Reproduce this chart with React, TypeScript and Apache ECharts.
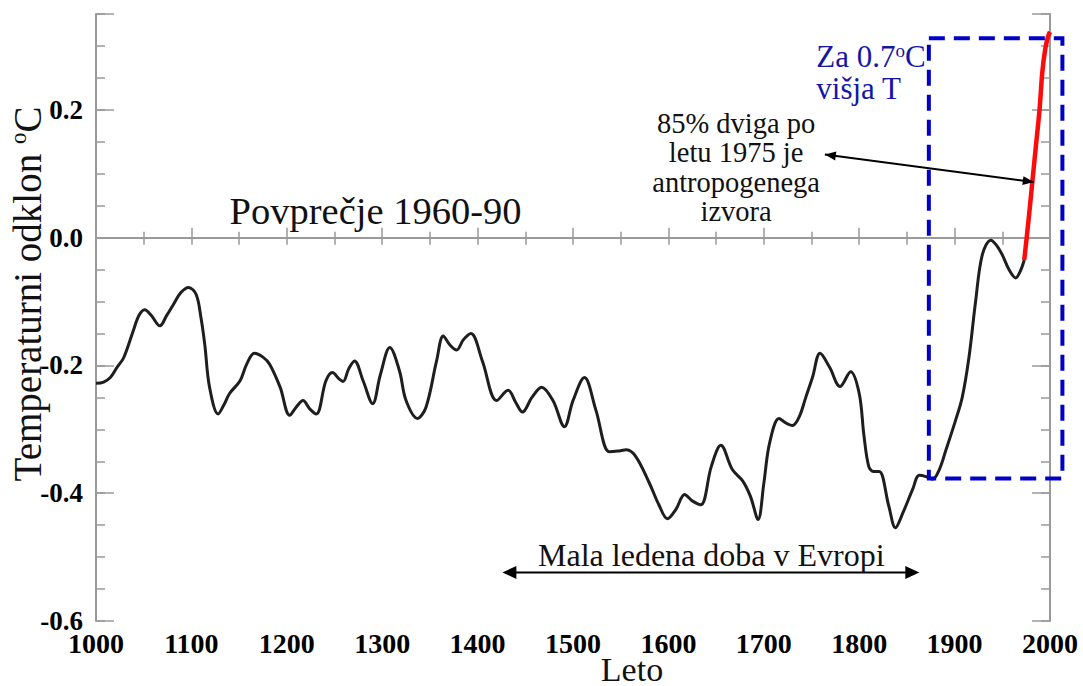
import React, { useEffect, useRef } from "react";
import * as echarts from "echarts";

// Reconstructed temperature anomaly (°C relative to 1960-90)
const years: number[] = [
  1000, 1008, 1015, 1022, 1029, 1039, 1045, 1051, 1058, 1067, 1074, 1081, 1089, 1097, 1105, 1110, 1114, 1119, 1128, 1134,
  1140, 1151, 1158, 1166, 1175, 1182, 1193, 1203, 1210, 1217, 1224, 1231, 1241, 1248, 1254, 1259, 1265, 1271, 1280, 1290,
  1298, 1308, 1318, 1325, 1337, 1346, 1357, 1364, 1371, 1378, 1385, 1393, 1405, 1420, 1432, 1440, 1447, 1457, 1467, 1479,
  1491, 1500, 1512, 1524, 1538, 1547, 1556, 1566, 1580, 1590, 1599, 1608, 1617, 1625, 1634, 1645, 1655, 1667, 1678, 1686,
  1694, 1700, 1706, 1716, 1723, 1730, 1737, 1744, 1751, 1759, 1769, 1780, 1791, 1800, 1805, 1810, 1815, 1821, 1831, 1838,
  1846, 1856, 1863, 1870, 1877, 1884, 1891, 1901, 1908, 1915, 1922, 1929, 1938, 1944, 1950, 1957, 1964, 1969, 1973,
];
const anomaly: number[] = [
  -0.228, -0.226, -0.219, -0.203, -0.188, -0.146, -0.122, -0.113, -0.122, -0.138, -0.122, -0.105, -0.086, -0.078, -0.089, -0.125, -0.167, -0.234, -0.276, -0.262,
  -0.244, -0.224, -0.198, -0.181, -0.187, -0.198, -0.234, -0.278, -0.265, -0.255, -0.268, -0.276, -0.224, -0.211, -0.22, -0.225, -0.205, -0.193, -0.224, -0.26,
  -0.215, -0.172, -0.208, -0.255, -0.283, -0.265, -0.193, -0.154, -0.168, -0.176, -0.16, -0.15, -0.193, -0.255, -0.239, -0.258, -0.273, -0.25, -0.234, -0.255,
  -0.296, -0.255, -0.219, -0.27, -0.335, -0.334, -0.332, -0.343, -0.384, -0.418, -0.44, -0.425, -0.402, -0.412, -0.418, -0.358, -0.325, -0.363, -0.381, -0.405,
  -0.441, -0.385, -0.322, -0.283, -0.29, -0.294, -0.281, -0.25, -0.219, -0.181, -0.203, -0.233, -0.21, -0.244, -0.31, -0.358, -0.366, -0.366, -0.42, -0.454,
  -0.43, -0.394, -0.372, -0.374, -0.378, -0.363, -0.332, -0.286, -0.25, -0.188, -0.1, -0.027, -0.004, -0.012, -0.027, -0.05, -0.063, -0.052, -0.035,
];

// Instrumental / recent warming segment (red)
const recentYears: number[] = [1973, 1977, 1981, 1985, 1989, 1992, 1995, 1998, 2000];
const recentAnomaly: number[] = [-0.035, 0.02, 0.08, 0.14, 0.2, 0.26, 0.295, 0.315, 0.322];

// Annotation anchors (data coordinates)
const boxYears: [number, number] = [1873, 2013];
const boxValues: [number, number] = [-0.377, 0.312];
const littleIceAge: [number, number] = [1426, 1863];
const littleIceAgeLevel = -0.524;
const humanArrowFrom: [number, number] = [1764, 0.13];
const humanArrowTo: [number, number] = [1983, 0.087];

const SERIF = "Liberation Serif";

export default function App() {
  const ref = useRef<HTMLDivElement>(null);

  useEffect(() => {
    if (!ref.current) return;
    const chart = echarts.init(ref.current, undefined, { renderer: "svg" });

    const tickColor = "#9a9a9a";
    const lineStyle = { color: tickColor, width: 2 };
    const yLabelFmt = (v: number) => {
      const r = Math.round(v * 100);
      return r % 20 === 0 ? (r / 100).toFixed(1) : "";
    };
    const xLabelFmt = (v: number) => String(Math.round(v));

    const xData = years.map((y, i) => [y, anomaly[i]]);
    const rData = recentYears.map((y, i) => [y, recentAnomaly[i]]);

    chart.setOption({
      animation: false,
      backgroundColor: "#ffffff",
      textStyle: { fontFamily: SERIF },
      grid: { left: 96, right: 33, top: 14, bottom: 65, containLabel: false },
      xAxis: [
        {
          type: "value",
          position: "bottom",
          min: 1000,
          max: 2000,
          interval: 100,
          axisLine: { show: true, lineStyle },
          axisTick: { show: true, inside: true, length: 10, lineStyle: { color: tickColor, width: 1.5 } },
          minorTick: { show: true, splitNumber: 2, length: 6, lineStyle: { color: tickColor, width: 1.5 } },
          splitLine: { show: false },
          axisLabel: {
            formatter: xLabelFmt,
            color: "#000",
            fontFamily: SERIF,
            fontWeight: "bold",
            fontSize: 28,
            margin: 8,
          },
        },
        {
          type: "value",
          position: "top",
          min: 1000,
          max: 2000,
          interval: 50,
          axisLine: { show: true, lineStyle },
          axisTick: { show: true, inside: true, length: 7, lineStyle: { color: tickColor, width: 1.5 } },
          splitLine: { show: false },
          axisLabel: { show: false },
        },
      ],
      yAxis: [
        {
          type: "value",
          position: "left",
          min: -0.6,
          max: 0.35,
          interval: 0.05,
          axisLine: { show: true, lineStyle },
          axisTick: { show: true, inside: true, length: 9, lineStyle: { color: tickColor, width: 1.5 } },
          splitLine: { show: false },
          axisLabel: {
            formatter: yLabelFmt,
            color: "#000",
            fontFamily: SERIF,
            fontWeight: "bold",
            fontSize: 27,
            margin: 13,
            padding: [0, 0, 10, 0],
          },
        },
        {
          type: "value",
          position: "left",
          min: -0.6,
          max: 0.35,
          interval: 0.2,
          axisLine: { show: false },
          axisTick: { show: true, inside: true, length: 18, lineStyle: { color: tickColor, width: 1.5 } },
          splitLine: { show: false },
          axisLabel: { show: false },
        },
        {
          type: "value",
          position: "right",
          min: -0.6,
          max: 0.35,
          interval: 0.05,
          axisLine: { show: true, lineStyle },
          axisTick: { show: true, inside: true, length: 9, lineStyle: { color: tickColor, width: 1.5 } },
          splitLine: { show: false },
          axisLabel: { show: false },
        },
        {
          type: "value",
          position: "right",
          min: -0.6,
          max: 0.35,
          interval: 0.2,
          axisLine: { show: false },
          axisTick: { show: true, inside: true, length: 18, lineStyle: { color: tickColor, width: 1.5 } },
          splitLine: { show: false },
          axisLabel: { show: false },
        },
      ],
      series: [
        {
          type: "line",
          xAxisIndex: 0,
          yAxisIndex: 0,
          data: xData,
          smooth: 0.35,
          showSymbol: false,
          lineStyle: { color: "#1e1e1e", width: 3 },
          z: 3,
          markLine: {
            silent: true,
            symbol: ["none", "none"],
            label: { show: false },
            lineStyle: { color: "#9a9a9a", width: 2, type: "solid" },
            data: [{ yAxis: 0 }],
            z: 1,
          },
        },
        {
          type: "line",
          xAxisIndex: 0,
          yAxisIndex: 0,
          data: rData,
          smooth: 0.35,
          showSymbol: false,
          lineStyle: { color: "#ff0a0a", width: 4.5 },
          z: 4,
        },
      ],
    });

    const px = (x: number, y: number) =>
      chart.convertToPixel({ xAxisIndex: 0, yAxisIndex: 0 }, [x, y]) as number[];

    const arrowHead = (tip: number[], from: number[], len: number, half: number) => {
      const dx = tip[0] - from[0];
      const dy = tip[1] - from[1];
      const d = Math.hypot(dx, dy) || 1;
      const ux = dx / d;
      const uy = dy / d;
      const bx = tip[0] - ux * len;
      const by = tip[1] - uy * len;
      return {
        type: "polygon",
        shape: {
          points: [
            [tip[0], tip[1]],
            [bx - uy * half, by + ux * half],
            [bx + uy * half, by - ux * half],
          ],
        },
        style: { fill: "#000" },
        silent: true,
        z: 20,
      };
    };

    const b0 = px(boxYears[0], boxValues[1]);
    const b1 = px(boxYears[1], boxValues[0]);
    const lA = px(littleIceAge[0], littleIceAgeLevel);
    const lB = px(littleIceAge[1], littleIceAgeLevel);
    const hA = px(humanArrowFrom[0], humanArrowFrom[1]);
    const hB = px(humanArrowTo[0], humanArrowTo[1]);
    const avgPos = px(1293, 0.041);
    const icePos = px(1645, -0.497);
    const humanPos = px(1671, 0.11);
    const bluePos = px(1755, 0.258);

    chart.setOption({
      graphic: [
        {
          type: "rect",
          shape: { x: b0[0], y: b0[1], width: b1[0] - b0[0], height: b1[1] - b0[1] },
          style: { fill: "none", stroke: "#0000c8", lineWidth: 4, lineDash: [16, 9] },
          silent: true,
          z: 10,
        },
        {
          type: "line",
          shape: { x1: lA[0] + 8, y1: lA[1], x2: lB[0] - 8, y2: lB[1] },
          style: { stroke: "#000", lineWidth: 2 },
          silent: true,
          z: 20,
        },
        arrowHead(lA, lB, 14, 6.5),
        arrowHead(lB, lA, 14, 6.5),
        {
          type: "line",
          shape: { x1: hA[0], y1: hA[1], x2: hB[0], y2: hB[1] },
          style: { stroke: "#000", lineWidth: 2 },
          silent: true,
          z: 20,
        },
        arrowHead(hA, hB, 11, 4.5),
        arrowHead(hB, hA, 11, 4.5),
        {
          type: "text",
          x: avgPos[0],
          y: avgPos[1],
          style: {
            text: "Povprečje 1960-90",
            fontFamily: SERIF,
            fontSize: 38.5,
            fill: "#111",
            align: "center",
            verticalAlign: "middle",
          },
          silent: true,
          z: 20,
        },
        {
          type: "text",
          x: icePos[0],
          y: icePos[1],
          style: {
            text: "Mala ledena doba v Evropi",
            fontFamily: SERIF,
            fontSize: 32,
            fill: "#111",
            align: "center",
            verticalAlign: "middle",
          },
          silent: true,
          z: 20,
        },
        {
          type: "text",
          x: humanPos[0],
          y: humanPos[1],
          style: {
            text: "85% dviga po\nletu 1975 je\nantropogenega\nizvora",
            fontFamily: SERIF,
            fontSize: 28.5,
            lineHeight: 29.5,
            fill: "#111",
            align: "center",
            verticalAlign: "middle",
          },
          silent: true,
          z: 20,
        },
        {
          type: "text",
          x: bluePos[0],
          y: bluePos[1],
          style: {
            text: "Za 0.7{s|o}C\nvišja T",
            fontFamily: SERIF,
            fontSize: 31,
            lineHeight: 32,
            fill: "#1616a6",
            align: "left",
            verticalAlign: "middle",
            rich: {
              s: { fontFamily: SERIF, fontSize: 19, fill: "#1616a6", verticalAlign: "top", lineHeight: 32 },
            },
          },
          silent: true,
          z: 20,
        },
        {
          type: "text",
          x: 632,
          y: 684,
          style: {
            text: "Leto",
            fontFamily: SERIF,
            fontSize: 34,
            lineHeight: 30,
            fill: "#111",
            align: "center",
            verticalAlign: "bottom",
          },
          silent: true,
          z: 20,
        },
        {
          type: "text",
          x: 27,
          y: 294,
          rotation: Math.PI / 2,
          style: {
            text: "Temperaturni odklon {s|o}C",
            fontFamily: SERIF,
            fontSize: 39,
            lineHeight: 40,
            fill: "#111",
            align: "center",
            verticalAlign: "middle",
            rich: {
              s: { fontFamily: SERIF, fontSize: 23, fill: "#111", verticalAlign: "top", lineHeight: 40 },
            },
          },
          silent: true,
          z: 20,
        },
      ],
    });

    return () => chart.dispose();
  }, []);

  return (
    <div
      ref={ref}
      style={{ position: "absolute", left: 0, top: 0, width: 1083, height: 686, background: "#fff" }}
    />
  );
}
